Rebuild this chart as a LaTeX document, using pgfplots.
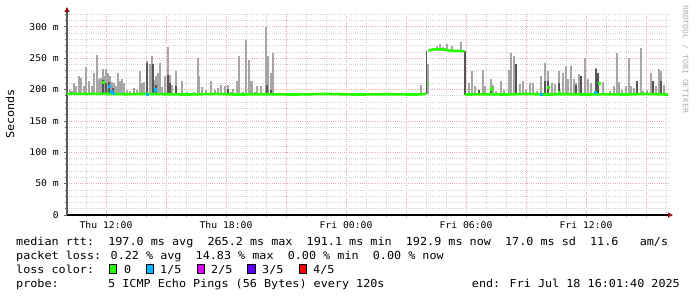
\documentclass[border=0pt]{standalone}
\usepackage{fontspec}
\setmonofont{DejaVu Sans Mono}
\newfontfamily\legfont[FakeStretch=1.07]{DejaVu Sans Mono}
\newfontfamily\tickfont[FakeStretch=1.06]{DejaVu Sans Mono}
\newfontfamily\wmfont[FakeStretch=1.09]{DejaVu Sans Mono}
\usepackage{pgfplots}
\pgfplotsset{compat=1.18}
\usepackage{pgfplotstable}
\usetikzlibrary{arrows.meta}
\pgfdeclarelayer{background}
\pgfsetlayers{background,main}

\definecolor{lossgreen}{HTML}{26FF00}
\definecolor{losscyan}{HTML}{00B8FF}
\definecolor{lossmag}{HTML}{DD00FF}
\definecolor{losspurple}{HTML}{5E00FF}
\definecolor{lossred}{HTML}{FF0000}
\definecolor{smokeL}{HTML}{A6A6A6}
\definecolor{smokeD}{HTML}{555555}
\definecolor{majgrid}{HTML}{E8ABAB}
\definecolor{mingrid}{HTML}{D2D2D2}
\definecolor{arrowred}{HTML}{991111}
\definecolor{wmgray}{HTML}{B0B0B0}

% smoke: light (outer pings), h = hour since Thu 00:00
\pgfplotstableread{
h lo hi
10.2 191 199
10.3 191 198
10.4 191 211
10.5 191 205
10.65 191 221
10.75 191 219
10.9 191 205
11.0 191 236
11.15 191 213
11.3 191 206
11.4 191 227
11.55 191 255
11.65 191 216
11.75 191 218
11.85 191 233
11.95 191 222
12.0 191 233
12.1 191 226
12.2 191 222
12.3 191 212
12.4 191 210
12.5 191 206
12.6 191 227
12.7 191 213
12.8 191 216
12.9 191 211
13.05 191 200
13.2 191 197
13.4 191 203
13.55 191 200
13.7 191 229
13.8 191 210
13.9 191 212
14.05 191 245
14.2 191 240
14.3 191 253
14.4 191 215
14.5 191 222
14.6 191 226
14.7 191 242
14.8 191 204
14.95 191 221
15.1 191 268
15.2 191 223
15.3 191 208
15.5 191 230
15.8 191 213
16.05 191 196
16.4 191 196
16.6 191 250
16.65 191 221
16.8 191 204
17.0 191 200
17.25 191 214
17.45 191 200
17.6 191 203
17.75 191 208
17.95 191 206
18.1 191 208
18.25 191 196
18.35 191 201
18.55 191 213
18.65 191 253
18.85 191 196
19.0 191 279
19.15 191 247
19.25 191 213
19.3 191 213
19.45 191 196
19.55 191 206
19.75 191 206
20.0 191 299
20.1 191 253
20.25 191 226
20.35 191 259
20.5 191 195
20.7 191 195
27.75 191 207
28.1 193 240
28.35 262 266
28.55 262 270
28.7 262 272
28.85 262 268
29.05 262 272
29.3 262 270
29.75 262 276
30.15 191 210
30.3 191 229
30.45 191 205
30.65 191 199
30.85 191 231
30.95 191 205
31.25 191 217
31.35 191 207
31.5 191 198
31.75 191 214
31.9 191 200
32.15 191 231
32.25 191 259
32.4 191 254
32.5 191 240
32.7 191 209
32.85 191 214
33.0 191 199
33.2 191 210
33.35 191 210
33.55 191 198
33.75 191 221
33.95 191 242
34.1 191 229
34.3 191 210
34.45 191 209
34.65 191 229
34.85 191 226
35.0 191 237
35.1 191 216
35.25 191 238
35.4 191 216
35.5 191 210
35.65 191 224
35.75 191 222
35.95 191 250
36.1 191 216
36.25 191 210
36.5 191 234
36.6 191 226
36.85 191 212
37.2 191 198
37.4 191 206
37.55 191 258
37.65 191 212
37.8 191 200
38.0 191 206
38.15 191 250
38.25 191 206
38.4 191 202
38.55 191 214
38.75 191 266
38.85 191 198
39.05 191 199
39.25 191 227
39.35 191 214
39.5 191 206
39.65 191 233
39.75 191 229
39.9 191 208
}\smokeLt

% smoke: dark (inner pings)
\pgfplotstableread{
h lo hi
11.85 191 215
12.0 191 210
12.15 191 212
12.35 191 202
14.05 191 243
14.35 191 240
14.5 191 208
15.1 191 223
15.2 191 210
15.5 191 205
18.1 191 201
20.05 191 208
20.25 191 200
28.03 193 262
29.94 192 262
30.65 191 199
31.25 191 201
32.5 191 240
33.95 191 214
34.1 191 214
34.65 191 210
35.5 191 207
35.75 191 222
36.5 191 232
36.6 191 226
38.55 191 214
39.35 191 214
39.75 191 214
}\smokeDt

% median rtt (ms)
\pgfplotstableread{
h v
10.05 193
12.0 193
13.0 192.5
14.0 193
15.0 192.5
16.0 192
17.5 193
18.5 192
20.0 192.5
21.5 192
23.0 193
24.5 192
26.0 192.5
27.5 192
28.02 193
nan nan
28.05 208
28.1 208
nan nan
28.12 262
28.4 264
28.9 264
29.2 262
29.93 261
nan nan
29.96 192
31.0 192.5
32.0 192
33.0 193
34.0 192
35.0 192.5
36.0 192
37.0 192.5
38.0 192
39.0 193
40.1 192
}\mediant

\begin{document}
\begin{tikzpicture}[x=1bp,y=1bp]
\begin{axis}[
  scale only axis, width=601bp, height=202bp,
  xmin=10.05, xmax=40.1, ymin=0, ymax=322,
  axis x line=bottom, axis y line=left,
  x axis line style={black, line width=1.3bp, shorten >=-5bp,
    -{Triangle[length=5bp,width=5bp,color=arrowred]}},
  y axis line style={black!65, line width=1.3bp, shorten >=-6bp,
    -{Triangle[length=5bp,width=5bp,color=arrowred]}},
  xtick={12,15,...,39},
  xticklabels={Thu 12:00,,Thu 18:00,,Fri 00:00,,Fri 06:00,,Fri 12:00,},
  minor xtick={11,...,40},
  ytick={0,50,...,300},
  yticklabels={0,50 m,100 m,150 m,200 m,250 m,300 m},
  minor ytick={10,20,...,320},
  grid=both,
  major grid style={draw=majgrid, line width=0.7bp, dash pattern=on 1bp off 1.2bp},
  minor grid style={draw=mingrid, line width=0.7bp, dash pattern=on 1bp off 1.2bp},
  tick align=outside,
  major tick length=3bp, minor tick length=2bp,
  xtick style={draw=majgrid, line width=0.8bp},
  ytick style={draw=black!60, line width=0.8bp},
  minor tick style={draw=mingrid, line width=0.8bp},
  ticklabel style={font={\tickfont\fontsize{9.2bp}{11bp}\selectfont}, inner sep=0pt},
  xticklabel style={anchor=north, yshift=-3.5bp},
  yticklabel style={anchor=east, xshift=-5bp},
  ylabel={Seconds},
  ylabel style={font={\legfont\fontsize{11bp}{13bp}\selectfont},
    at={(axis description cs:-0.0948,0.5)}, anchor=center},
  unbounded coords=jump,
  clip=false,
]
\addplot[draw=none, mark=none, forget plot,
  error bars/.cd, y dir=minus, y explicit, error mark=none,
  error bar style={draw=smokeL, line width=1.7bp, solid}]
  table[x=h, y=hi, y error minus expr=\thisrow{hi}-\thisrow{lo}] {\smokeLt};
\addplot[draw=none, mark=none, forget plot,
  error bars/.cd, y dir=minus, y explicit, error mark=none,
  error bar style={draw=smokeD, line width=1.5bp, solid}]
  table[x=h, y=hi, y error minus expr=\thisrow{hi}-\thisrow{lo}] {\smokeDt};
\addplot[lossgreen, line width=2.6bp, mark=none] table[x=h, y=v] {\mediant};
\addplot[only marks, mark=square*, mark size=1.3bp, color=lossgreen]
  coordinates {(11.85,212) (31.25,201) (34.1,204) (34.65,196) (36.65,210)};
\addplot[only marks, mark=square*, mark size=1.3bp, color=losscyan]
  coordinates {(12.15,205) (12.25,197) (12.35,194) (14.05,192.5) (14.45,200) (33.75,192.5) (36.45,196)};
\coordinate (pa) at (rel axis cs:0,0);
\end{axis}
\pgfresetboundingbox
\begin{scope}[shift={(pa)}, xshift=-67bp, yshift=-82bp]
\path[use as bounding box] (0,0) rectangle (697,297);
\begin{pgfonlayer}{background}
\fill[white] (0,0) rectangle (697,297);
\end{pgfonlayer}
% watermark
\node[font={\wmfont\fontsize{7.5bp}{9bp}\selectfont}, text=wmgray, rotate=-90, anchor=south west, inner sep=0pt]
  at (682,292) {RRDTOOL / TOBI OETIKER};
% legend / statistics
\begin{scope}[every node/.style={font={\legfont\fontsize{11bp}{14bp}\selectfont}, inner sep=0pt, anchor=base west}]
\node at (16,52) {median rtt:\ \ 197.0 ms avg\ \ 265.2 ms max\ \ 191.1 ms min\ \ 192.9 ms now\ \ 17.0 ms sd\ \ 11.6\ \ \ am/s};
\node at (16,38) {packet loss: 0.22 \% avg\ \ 14.83 \% max\ \ 0.00 \% min\ \ 0.00 \% now};
\node at (16,24) {loss color:};
\node at (124,24) {0};
\node at (160,24) {1/5};
\node at (211,24) {2/5};
\node at (262,24) {3/5};
\node at (313,24) {4/5};
\node at (16,10) {probe:};
\node at (108,10) {5 ICMP Echo Pings (56 Bytes) every 120s};
\node[anchor=base east] at (680,10) {end: Fri Jul 18 16:01:40 2025};
\end{scope}
\foreach \bx/\bc in {109/lossgreen,146/losscyan,197/lossmag,247.5/losspurple,299/lossred}{
  \draw[black, line width=0.8bp, fill=\bc] (\bx,23.5) rectangle ++(7.5,9);
}
\end{scope}
\end{tikzpicture}
\end{document}
